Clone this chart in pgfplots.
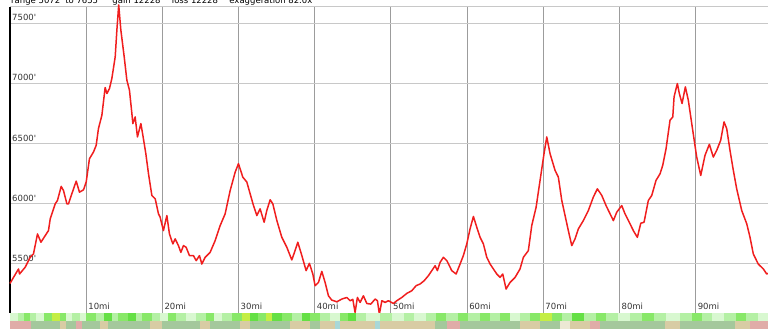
\documentclass[border=0pt]{standalone}
\usepackage{fontspec}
\setmainfont{DejaVu Sans}
\usepackage{pgfplots}
\pgfplotsset{compat=1.18}
\definecolor{vgrid}{HTML}{9C9C9C}
\definecolor{hgrid}{HTML}{C8C8C8}
\definecolor{curve}{HTML}{F01E1E}
\definecolor{lbl}{HTML}{333333}
\definecolor{pale}{HTML}{D8F8D0}
\definecolor{light}{HTML}{B4F0A4}
\definecolor{mid}{HTML}{88E868}
\definecolor{bright}{HTML}{64E044}
\definecolor{lime}{HTML}{C4EE44}
\definecolor{pink}{HTML}{E0ACA8}
\definecolor{sage}{HTML}{A4C89C}
\definecolor{tan}{HTML}{D8CCA4}
\definecolor{cream}{HTML}{ECE8D4}
\definecolor{blu}{HTML}{A8D8D8}
\newcommand{\tseg}[3]{\addplot[draw=#3,line width=0.3bp,fill=#3] coordinates {(#1,9)(#2,9)(#2,16)(#1,16)};}
\newcommand{\bseg}[3]{\addplot[draw=#3,line width=0.3bp,fill=#3] coordinates {(#1,1)(#2,1)(#2,8)(#1,8)};}
\begin{document}
\begin{tikzpicture}[font=\fontsize{8.5bp}{10bp}\selectfont]
\begin{axis}[at={(10bp,16bp)}, anchor=south west, scale only axis,
  width=758bp, height=306bp,
  xmin=0, xmax=99.5, ymin=5090, ymax=7633,
  xtick={10,20,30,40,50,60,70,80,90},
  xticklabels={10mi,20mi,30mi,40mi,50mi,60mi,70mi,80mi,90mi},
  ytick={5500,6000,6500,7000,7500},
  yticklabels={5500\textquotesingle,6000\textquotesingle,6500\textquotesingle,7000\textquotesingle,7500\textquotesingle},
  grid=major,
  x grid style={color=vgrid, line width=1bp},
  y grid style={color=hgrid, line width=1bp},
  major tick length=0pt,
  axis line style={draw=none},
  xticklabel style={anchor=south west, inner sep=2bp, yshift=1bp},
  yticklabel style={anchor=south west, inner sep=2bp},
  tick label style={text=lbl},
  clip=false]
\draw[hgrid, line width=1bp] (rel axis cs:0,1) -- (rel axis cs:1,1);
\draw[black, line width=1.5bp] (rel axis cs:0,0) -- (rel axis cs:0,1);
\addplot[curve, line width=1.5bp, line join=round] coordinates {
(0,5335)(0.46,5386)(1.12,5456)(1.25,5414)(1.99,5470)(2.65,5553)(3.08,5581)(3.61,5747)
(4.06,5678)(5.05,5775)(5.28,5872)(5.93,5997)(6.23,6025)(6.72,6142)(7.02,6108)(7.47,5997)
(7.68,5997)(8.12,6081)(8.69,6186)(9.12,6094)(9.65,6114)(10.0,6178)(10.43,6372)(10.96,6428)
(11.31,6483)(11.61,6622)(12.06,6733)(12.49,6964)(12.72,6914)(13.06,6956)(13.37,7039)
(13.81,7219)(14.03,7442)(14.27,7650)(14.55,7442)(14.99,7219)(15.34,7025)(15.68,6942)
(16.0,6747)(16.13,6664)(16.43,6719)(16.73,6553)(17.18,6664)(17.44,6567)(17.83,6414)
(18.18,6247)(18.62,6067)(19.06,6039)(19.49,5914)(19.71,5886)(20.14,5775)(20.59,5900)
(20.93,5747)(21.38,5664)(21.68,5706)(22.11,5650)(22.43,5594)(22.77,5650)(23.12,5636)
(23.56,5567)(24.08,5567)(24.44,5525)(24.87,5567)(25.18,5497)(25.62,5553)(26.27,5594)
(26.93,5692)(27.59,5817)(28.24,5914)(28.9,6108)(29.56,6261)(29.99,6331)(30.56,6219)
(31.09,6178)(31.52,6081)(31.96,5983)(32.4,5900)(32.83,5956)(33.36,5844)(33.71,5942)
(34.15,6031)(34.5,5997)(35.03,5858)(35.68,5719)(36.34,5636)(36.99,5531)(37.34,5594)
(37.78,5678)(38.31,5567)(38.87,5442)(39.3,5503)(39.75,5414)(40.05,5317)(40.49,5344)
(40.93,5436)(41.36,5344)(41.8,5233)(42.24,5197)(42.9,5183)(43.56,5206)(44.21,5219)
(44.65,5192)(45.0,5203)(45.3,5094)(45.6,5219)(45.96,5178)(46.39,5233)(46.84,5169)
(47.36,5164)(47.93,5206)(48.23,5192)(48.49,5080)(48.81,5192)(49.24,5178)(49.67,5192)
(50.33,5169)(50.77,5192)(51.43,5219)(52.09,5253)(52.74,5275)(53.31,5317)(53.83,5331)
(54.36,5358)(54.92,5400)(55.37,5442)(55.8,5483)(56.1,5442)(56.46,5511)(56.89,5553)
(57.34,5525)(57.99,5442)(58.56,5414)(59.08,5497)(59.51,5567)(59.96,5664)(60.39,5789)
(60.83,5892)(61.27,5803)(61.71,5719)(62.14,5664)(62.58,5553)(63.02,5497)(63.45,5456)
(63.9,5414)(64.33,5386)(64.68,5414)(65.12,5289)(65.64,5344)(66.3,5386)(66.95,5456)
(67.39,5553)(68.04,5608)(68.49,5817)(69.06,5969)(69.58,6192)(70.1,6414)(70.46,6553)
(70.89,6414)(71.55,6275)(71.98,6219)(72.43,6025)(72.86,5900)(73.29,5775)(73.74,5650)
(74.17,5706)(74.61,5789)(75.26,5858)(75.92,5942)(76.57,6053)(77.1,6122)(77.68,6067)
(78.24,5983)(78.77,5914)(79.2,5858)(79.65,5928)(80.3,5983)(80.73,5914)(81.39,5831)
(81.82,5775)(82.35,5719)(82.8,5836)(83.23,5844)(83.79,6025)(84.24,6067)(84.8,6192)
(85.33,6247)(85.68,6317)(86.12,6456)(86.64,6692)(87.0,6719)(87.17,6886)(87.6,6997)
(87.86,6914)(88.22,6831)(88.65,6969)(89.04,6858)(89.49,6664)(90.14,6386)(90.67,6233)
(91.23,6400)(91.8,6492)(92.32,6386)(92.77,6442)(93.29,6525)(93.73,6678)(94.08,6622)
(94.51,6442)(94.95,6275)(95.39,6122)(96.05,5942)(96.71,5831)(97.14,5719)(97.57,5581)
(98.22,5497)(98.89,5456)(99.33,5414)(99.5,5420)
};
\end{axis}
\begin{axis}[at={(10bp,0bp)}, anchor=south west, scale only axis,
  width=758bp, height=16bp, xmin=10, xmax=768, ymin=0, ymax=16,
  hide axis, clip=false]
\tseg{10}{18}{pale}\tseg{18}{24}{light}\tseg{24}{30}{mid}\tseg{30}{36}{light}
\tseg{36}{44}{pale}\tseg{44}{52}{mid}\tseg{52}{60}{lime}\tseg{60}{66}{mid}
\tseg{66}{72}{pale}\tseg{72}{80}{light}\tseg{80}{86}{pale}\tseg{86}{96}{mid}
\tseg{96}{104}{light}\tseg{104}{112}{bright}\tseg{112}{118}{light}\tseg{118}{128}{mid}
\tseg{128}{136}{bright}\tseg{136}{142}{light}\tseg{142}{152}{mid}\tseg{152}{160}{light}
\tseg{160}{168}{pale}\tseg{168}{176}{mid}\tseg{176}{186}{light}\tseg{186}{196}{pale}
\tseg{196}{206}{light}\tseg{206}{214}{mid}\tseg{214}{222}{pale}\tseg{222}{232}{light}
\tseg{232}{242}{mid}\tseg{242}{250}{lime}\tseg{250}{258}{bright}\tseg{258}{266}{mid}
\tseg{266}{272}{lime}\tseg{272}{282}{bright}\tseg{282}{292}{mid}\tseg{292}{302}{light}
\tseg{302}{310}{bright}\tseg{310}{320}{mid}\tseg{320}{330}{light}\tseg{330}{340}{pale}
\tseg{340}{348}{mid}\tseg{348}{356}{bright}\tseg{356}{366}{light}\tseg{366}{380}{pale}
\tseg{380}{392}{light}\tseg{392}{404}{pale}\tseg{404}{414}{light}\tseg{414}{426}{pale}
\tseg{426}{436}{light}\tseg{436}{446}{mid}\tseg{446}{458}{light}\tseg{458}{468}{mid}
\tseg{468}{480}{light}\tseg{480}{490}{mid}\tseg{490}{500}{light}\tseg{500}{510}{mid}
\tseg{510}{520}{pale}\tseg{520}{530}{light}\tseg{530}{540}{mid}\tseg{540}{552}{lime}
\tseg{552}{562}{mid}\tseg{562}{572}{light}\tseg{572}{584}{bright}\tseg{584}{596}{light}
\tseg{596}{606}{mid}\tseg{606}{618}{light}\tseg{618}{630}{pale}\tseg{630}{642}{light}
\tseg{642}{654}{mid}\tseg{654}{666}{light}\tseg{666}{680}{pale}\tseg{680}{692}{light}
\tseg{692}{702}{mid}\tseg{702}{712}{light}\tseg{712}{724}{pale}\tseg{724}{736}{light}
\tseg{736}{746}{mid}\tseg{746}{758}{light}\tseg{758}{768}{pale}
\bseg{10}{31}{pink}\bseg{31}{60}{sage}\bseg{60}{66}{tan}\bseg{66}{76}{sage}
\bseg{76}{82}{pink}\bseg{82}{100}{sage}\bseg{100}{108}{tan}\bseg{108}{150}{sage}
\bseg{150}{162}{tan}\bseg{162}{200}{sage}\bseg{200}{210}{tan}\bseg{210}{240}{sage}
\bseg{240}{250}{tan}\bseg{250}{290}{sage}\bseg{290}{310}{tan}\bseg{310}{320}{sage}
\bseg{320}{335}{tan}\bseg{335}{340}{blu}\bseg{340}{375}{tan}\bseg{375}{380}{blu}
\bseg{380}{435}{tan}\bseg{435}{447}{sage}\bseg{447}{460}{pink}\bseg{460}{520}{sage}
\bseg{520}{540}{tan}\bseg{540}{560}{sage}\bseg{560}{570}{cream}\bseg{570}{590}{tan}
\bseg{590}{600}{pink}\bseg{600}{665}{sage}\bseg{665}{680}{tan}\bseg{680}{735}{sage}
\bseg{735}{750}{tan}\bseg{750}{768}{pink}
\end{axis}
\node[anchor=base west, inner sep=0pt] at (11bp,325bp) {range 5072\textquotesingle\ to 7655\textquotesingle\hspace{12bp}gain 12228\textquotesingle\hspace{9bp}loss 12228\textquotesingle\hspace{9bp}exaggeration 82.0x};
\pgfresetboundingbox
\useasboundingbox (0,0) rectangle (768bp,329bp);
\end{tikzpicture}
\end{document}
